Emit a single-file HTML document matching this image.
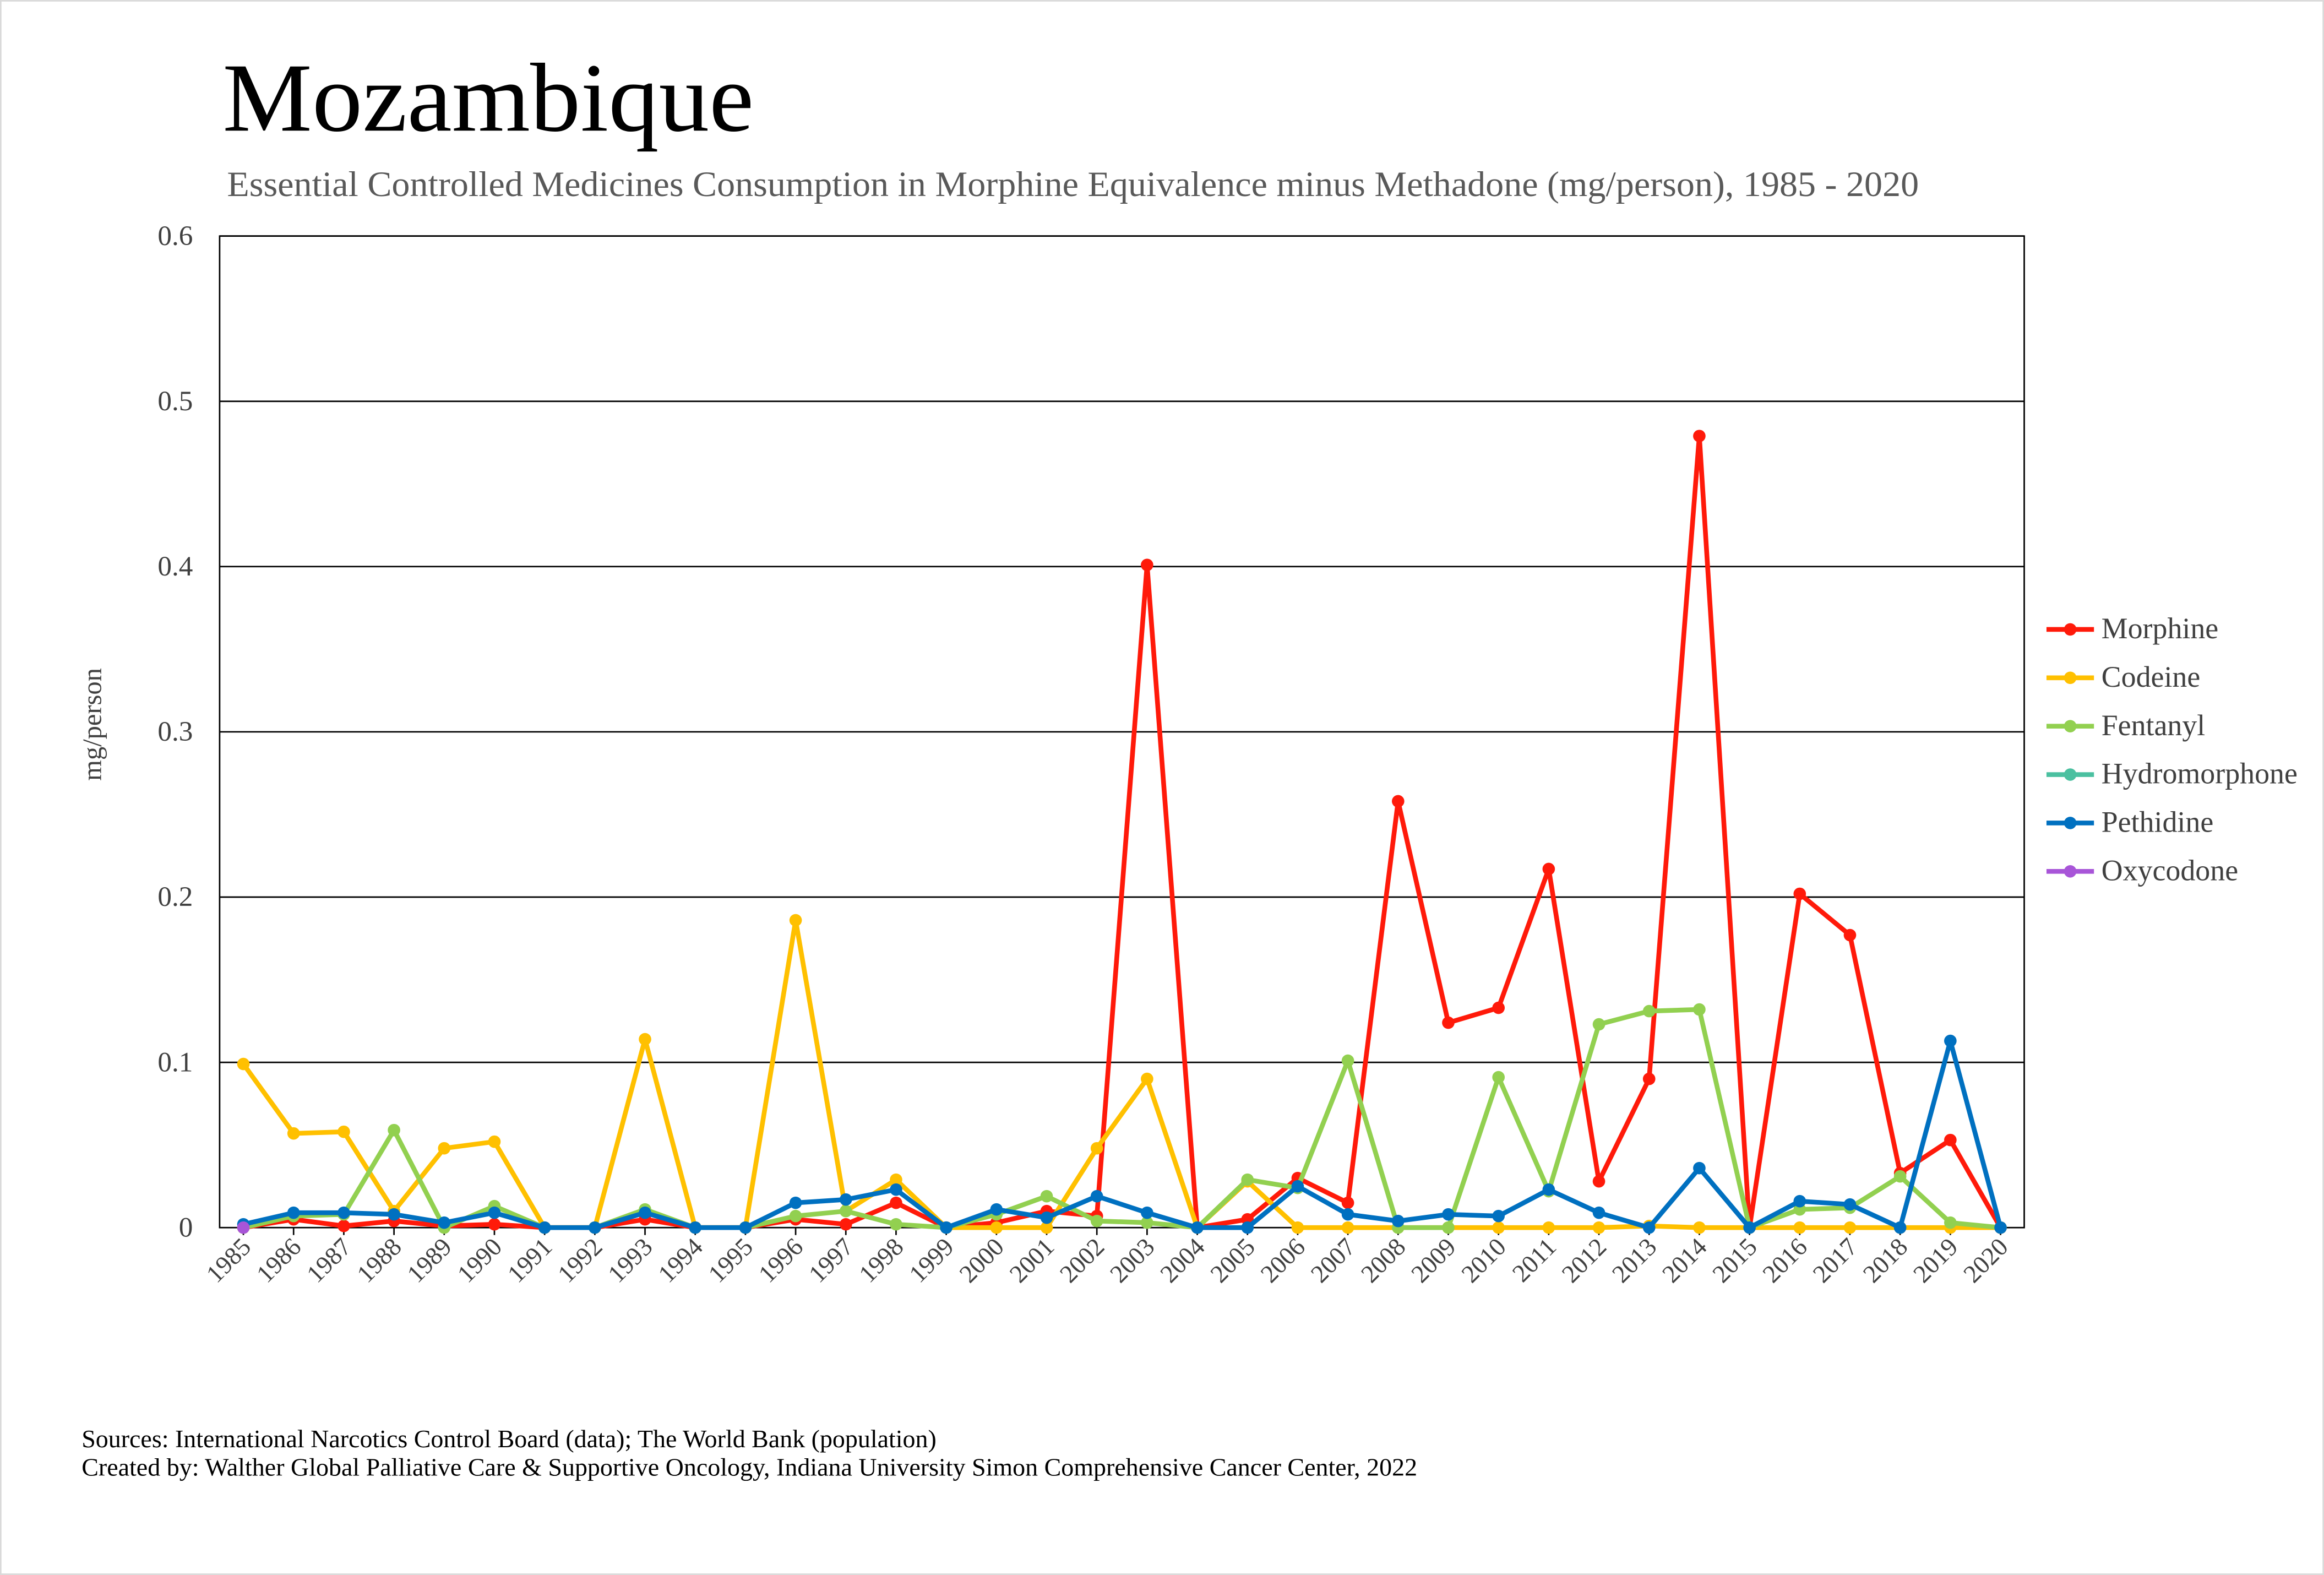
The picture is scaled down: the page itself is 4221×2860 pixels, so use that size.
<!DOCTYPE html>
<html><head><meta charset="utf-8"><style>
html,body{margin:0;padding:0;background:#fff}
svg{display:block}
text{font-family:"Liberation Serif",serif}
</style></head><body>
<svg id="s" width="4221" height="2860" viewBox="0 0 1566 1061" xmlns="http://www.w3.org/2000/svg">
<rect x="0.5" y="0.5" width="1565" height="1060" fill="#fff" stroke="#d9d9d9"/>
<text x="150" y="88" font-size="66" fill="#000" textLength="358" lengthAdjust="spacingAndGlyphs">Mozambique</text>
<text x="153" y="132" font-size="24" fill="#595959" textLength="1140" lengthAdjust="spacingAndGlyphs">Essential Controlled Medicines Consumption in Morphine Equivalence minus Methadone (mg/person), 1985 - 2020</text>
<text transform="translate(68,488) rotate(-90)" font-size="18" text-anchor="middle" fill="#404040">mg/person</text>
<text x="55" y="975" font-size="17" textLength="576" lengthAdjust="spacingAndGlyphs">Sources: International Narcotics Control Board (data); The World Bank (population)</text>
<text x="55" y="994" font-size="17" textLength="900" lengthAdjust="spacingAndGlyphs">Created by: Walther Global Palliative Care &amp; Supportive Oncology, Indiana University Simon Comprehensive Cancer Center, 2022</text>
<g id="g"></g>
</svg>
<script>
var g=document.getElementById('g'),NS="http://www.w3.org/2000/svg";
function el(t,a,txt){var e=document.createElementNS(NS,t);for(var k in a)e.setAttribute(k,a[k]);if(txt!=null)e.textContent=txt;g.appendChild(e);return e;}
var X0=148,X1=1364,Y0=827,Y6=159;
function X(i){return 164+i*33.83;}function Y(v){return Y0-(Y0-Y6)*v/0.6;}
for(var k=0;k<=6;k++){var y=Y(k/10);
 if(k>0)el('line',{x1:X0,x2:X1,y1:y,y2:y,stroke:'#000','stroke-width':1});
 el('text',{x:130,y:y+6,'font-size':19,'text-anchor':'end',fill:'#404040'},k==0?'0':(k/10).toString());}
el('rect',{x:X0,y:Y6,width:X1-X0,height:Y0-Y6,fill:'none',stroke:'#000','stroke-width':1});
for(var i=0;i<36;i++){var x=X(i);
 el('line',{x1:x,x2:x,y1:Y0,y2:Y0+5,stroke:'#000'});
 el('text',{transform:'translate('+(x+6)+','+(Y0+14)+') rotate(-45)','font-size':17,'text-anchor':'end',fill:'#404040'},1985+i);}
var S=[
['Morphine','#ff1a0a',[0,.005,.001,.004,.001,.002,0,0,.005,0,0,.005,.002,.015,0,.003,.01,.007,.401,0,.005,.03,.015,.258,.124,.133,.217,.028,.09,.479,0,.202,.177,.033,.053,0]],
['Codeine','#ffc000',[.099,.057,.058,.01,.048,.052,0,0,.114,0,0,.186,.01,.029,0,0,0,.048,.09,0,.028,0,0,0,0,0,0,0,.001,0,0,0,0,0,0,0]],
['Fentanyl','#92d050',[0,.007,.008,.059,0,.013,0,0,.011,0,0,.007,.01,.002,0,.008,.019,.004,.003,0,.029,.024,.101,0,0,.091,.022,.123,.131,.132,0,.011,.012,.031,.003,0]],
['Hydromorphone','#4bc0a0',null],
['Pethidine','#0070c0',[.002,.009,.009,.008,.003,.009,0,0,.009,0,0,.015,.017,.023,0,.011,.006,.019,.009,0,0,.025,.008,.004,.008,.007,.023,.009,0,.036,0,.016,.014,0,.113,0]],
['Oxycodone','#a855d8',[0]]];
S.forEach(function(s,j){
 if(s[2]){var d=s[2].map(function(v,i){return X(i)+','+Y(v)}).join(' ');
  if(s[2].length>1)el('polyline',{points:d,fill:'none',stroke:s[1],'stroke-width':3.2,'stroke-linejoin':'round'});
  s[2].forEach(function(v,i){el('circle',{cx:X(i),cy:Y(v),r:4.2,fill:s[1]})});}
 var ly=424+j*32.6;
 el('line',{x1:1379,x2:1411,y1:ly,y2:ly,stroke:s[1],'stroke-width':3.2});
 el('circle',{cx:1395,cy:ly,r:4.2,fill:s[1]});
 el('text',{x:1416,y:ly+6,'font-size':20,fill:'#404040'},s[0]);
});
</script>
</body></html>
